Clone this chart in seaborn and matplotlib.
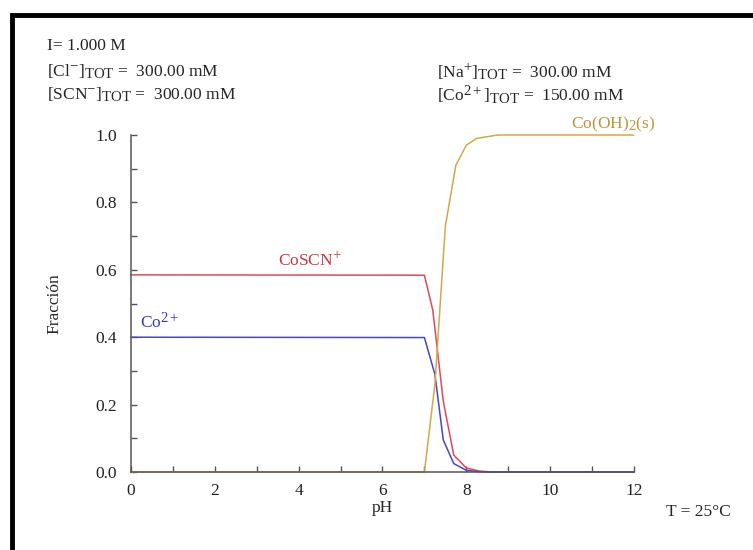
import numpy as np
import pandas as pd
import matplotlib.pyplot as plt
import matplotlib._mathtext as mathtext_impl
import seaborn as sns
from matplotlib.patches import Rectangle
from matplotlib.ticker import MultipleLocator

# fraction of each species vs pH
ph_coscn = [0.0, 7.0, 7.2, 7.45, 7.7, 8.0, 8.3, 8.6, 12.0]
frac_coscn = [0.585, 0.584, 0.48, 0.21, 0.05, 0.012, 0.003, 0.0, 0.0]

ph_co = [0.0, 7.0, 7.25, 7.45, 7.7, 8.0, 8.3, 8.6, 12.0]
frac_co = [0.400, 0.399, 0.29, 0.095, 0.025, 0.005, 0.001, 0.0, 0.0]

ph_cooh = [0.0, 7.0, 7.25, 7.5, 7.75, 8.0, 8.25, 8.75, 12.0]
frac_cooh = [0.0, 0.0, 0.26, 0.73, 0.91, 0.97, 0.99, 1.0, 1.0]

species = ["CoSCN+", "Co2+", "Co(OH)2(s)"]
colors = {"CoSCN+": "#e04a55", "Co2+": "#4646cc", "Co(OH)2(s)": "#d2a848"}

df = pd.concat([
    pd.DataFrame({"pH": ph_coscn, "frac": frac_coscn, "sp": "CoSCN+"}),
    pd.DataFrame({"pH": ph_co, "frac": frac_co, "sp": "Co2+"}),
    pd.DataFrame({"pH": ph_cooh, "frac": frac_cooh, "sp": "Co(OH)2(s)"}),
])

sns.set_style("ticks")
plt.rcParams["font.family"] = ["Liberation Serif", "DejaVu Serif"]
plt.rcParams["mathtext.fontset"] = "custom"
plt.rcParams["mathtext.rm"] = "Liberation Serif"
plt.rcParams["mathtext.it"] = "Liberation Serif:italic"
plt.rcParams["mathtext.bf"] = "Liberation Serif:bold"
# the original uses big sub/superscripts
mathtext_impl.SHRINK_FACTOR = 0.85

fs = 12.5

fig = plt.figure(figsize=(7.53, 5.5), dpi=100)
ax = fig.add_axes([131 / 753, 1 - 472 / 550, 503 / 753, 337 / 550])

sns.lineplot(data=df, x="pH", y="frac", hue="sp", hue_order=species,
             palette=colors, linewidth=1.1, legend=False, ax=ax,
             estimator=None, sort=False)
for ln in ax.get_lines():
    ln.set_clip_on(False)

ax.set_xlim(0, 12)
ax.set_ylim(0, 1)
ax.xaxis.set_major_locator(MultipleLocator(2))
ax.xaxis.set_minor_locator(MultipleLocator(1))
ax.yaxis.set_major_locator(MultipleLocator(0.2))
ax.yaxis.set_minor_locator(MultipleLocator(0.1))
ax.yaxis.set_major_formatter(plt.FormatStrFormatter("%.1f"))
ax.tick_params(which="both", direction="in", length=4, width=1,
               color="#555555", labelsize=fs, labelcolor="#222222")
ax.tick_params(axis="x", pad=8)
ax.tick_params(axis="y", pad=10)
sns.despine(ax=ax)
for s in ("left", "bottom"):
    ax.spines[s].set_color("#555555")
    ax.spines[s].set_linewidth(1.1)

ax.set_xlabel("pH", fontsize=fs, labelpad=1)
ax.set_ylabel("Fracción", fontsize=fs, labelpad=24)

# species labels
ax.text(4.26, 0.625, r"CoSCN$^{+}$", color="#c8383f", fontsize=fs,
        ha="center", va="center")
ax.text(0.22, 0.445, r"Co$^{2+}$", color="#3a3ab8", fontsize=fs,
        ha="left", va="center")
ax.text(11.5, 1.03, r"Co(OH)$_{2}$(s)", color="#bb953c", fontsize=fs,
        ha="center", va="center")

# header info
fig.text(47 / 753, 1 - 46 / 550, "I= 1.000 M", fontsize=fs, va="center")
fig.text(47 / 753, 1 - 72 / 550, r"[Cl$^{-}$]$_{\mathrm{TOT}}$ =  300.00 mM",
         fontsize=fs, va="center")
fig.text(47 / 753, 1 - 95 / 550, r"[SCN$^{-}$]$_{\mathrm{TOT}}$ =  300.00 mM",
         fontsize=fs, va="center")
fig.text(437 / 753, 1 - 72 / 550, r"[Na$^{+}$]$_{\mathrm{TOT}}$ =  300.00 mM",
         fontsize=fs, va="center")
fig.text(437 / 753, 1 - 95 / 550, r"[Co$^{2+}$]$_{\mathrm{TOT}}$ =  150.00 mM",
         fontsize=fs, va="center")
fig.text(698 / 753, 1 - 512 / 550, "T = 25°C", fontsize=fs,
         ha="center", va="center")

# black frame (only left and top edges visible in the crop)
fig.add_artist(Rectangle((12 / 753, -0.1), 1.2, (550 - 15) / 550 + 0.1,
                         transform=fig.transFigure, fill=False,
                         edgecolor="black", linewidth=3.5))

fig.savefig("out.png", dpi=100)
plt.close(fig)
